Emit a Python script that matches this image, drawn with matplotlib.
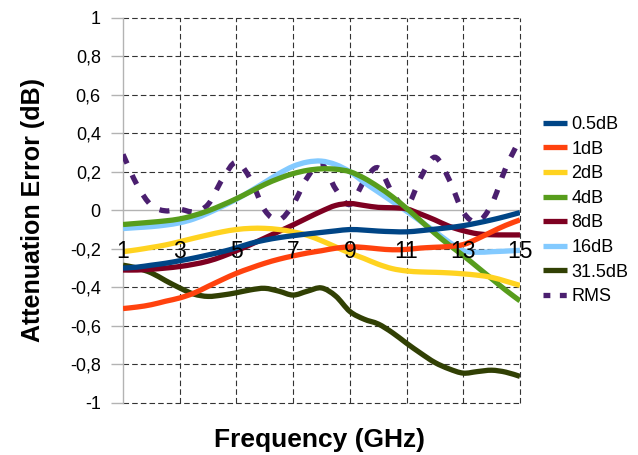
import matplotlib
matplotlib.use("Agg")
import matplotlib.pyplot as plt
from matplotlib.path import Path
from matplotlib.patches import PathPatch
from matplotlib.lines import Line2D
import numpy as np

plt.rcParams['font.family'] = ['Liberation Sans', 'DejaVu Sans']

freq = [1, 1.5, 2, 2.5, 3, 3.5, 4, 4.5, 5, 5.5, 6, 6.5, 7, 7.5, 8, 8.5, 9, 9.5,
        10, 10.5, 11, 11.5, 12, 12.5, 13, 13.5, 14, 14.5, 15]

db05 = [-0.30, -0.295, -0.285, -0.275, -0.262, -0.248, -0.232, -0.215, -0.195, -0.172,
        -0.155, -0.142, -0.132, -0.123, -0.115, -0.107, -0.100, -0.103, -0.108, -0.111,
        -0.112, -0.106, -0.098, -0.090, -0.080, -0.066, -0.050, -0.032, -0.012]
db1 = [-0.51, -0.502, -0.49, -0.472, -0.455, -0.43, -0.395, -0.36, -0.327, -0.30,
       -0.275, -0.254, -0.237, -0.222, -0.21, -0.197, -0.19, -0.193, -0.20, -0.205,
       -0.203, -0.196, -0.192, -0.188, -0.178, -0.148, -0.112, -0.078, -0.05]
db2 = [-0.215, -0.205, -0.193, -0.18, -0.163, -0.145, -0.128, -0.112, -0.10, -0.094,
       -0.094, -0.10, -0.112, -0.13, -0.158, -0.19, -0.222, -0.25, -0.28, -0.303,
       -0.315, -0.32, -0.322, -0.325, -0.33, -0.337, -0.348, -0.368, -0.39]
db4 = [-0.074, -0.068, -0.062, -0.055, -0.045, -0.027, -0.003, 0.027, 0.06, 0.097,
       0.134, 0.165, 0.19, 0.207, 0.215, 0.213, 0.20, 0.167, 0.122, 0.07,
       0.01, -0.055, -0.12, -0.18, -0.235, -0.295, -0.355, -0.415, -0.47]
db8 = [-0.31, -0.31, -0.306, -0.30, -0.292, -0.28, -0.264, -0.24, -0.21, -0.178,
       -0.144, -0.11, -0.076, -0.04, -0.005, 0.025, 0.035, 0.025, 0.015, 0.013,
       0.007, -0.02, -0.05, -0.083, -0.106, -0.122, -0.127, -0.128, -0.128]
db16 = [-0.095, -0.09, -0.085, -0.077, -0.065, -0.045, -0.015, 0.02, 0.057, 0.10,
        0.145, 0.19, 0.228, 0.25, 0.255, 0.237, 0.20, 0.145, 0.095, 0.045,
        -0.005, -0.058, -0.11, -0.165, -0.21, -0.218, -0.215, -0.212, -0.208]
db315 = [-0.285, -0.30, -0.325, -0.365, -0.403, -0.435, -0.447, -0.44, -0.428, -0.413,
         -0.405, -0.42, -0.44, -0.42, -0.403, -0.445, -0.525, -0.565, -0.59, -0.635,
         -0.69, -0.742, -0.79, -0.823, -0.845, -0.837, -0.83, -0.84, -0.862]
rms = [0.29, 0.13, 0.025, -0.003, 0.005, -0.008, 0.03, 0.16, 0.25, 0.16,
       0.0, -0.05, 0.03, 0.17, 0.24, 0.11, 0.03, 0.15, 0.22, 0.09,
       0.02, 0.17, 0.275, 0.16, -0.01, -0.06, 0.03, 0.22, 0.37]

series_names = ['0.5dB', '1dB', '2dB', '4dB', '8dB', '16dB', '31.5dB', 'RMS']
series_values = [db05, db1, db2, db4, db8, db16, db315, rms]
colors = ['#004586', '#ff420e', '#ffd320', '#579d1c', '#7e0021', '#83caff', '#314004', '#4b1f6f']

x_tick_labels = ['1', '3', '5', '7', '9', '11', '13', '15']
x_tick_vals = [1, 3, 5, 7, 9, 11, 13, 15]
y_tick_vals = [-1, -0.8, -0.6, -0.4, -0.2, 0, 0.2, 0.4, 0.6, 0.8, 1]
y_tick_labels = ['-1', '-0,8', '-0,6', '-0,4', '-0,2', '0', '0,2', '0,4', '0,6', '0,8', '1']


def smooth_path(xs, ys):
    # Catmull-Rom smoothing drawn as cubic Bezier segments (like a "smooth line" chart)
    p = np.column_stack([xs, ys]).astype(float)
    n = len(p)
    verts = [p[0]]
    codes = [Path.MOVETO]
    for i in range(n - 1):
        p0 = p[i - 1] if i > 0 else p[i]
        p1 = p[i]
        p2 = p[i + 1]
        p3 = p[i + 2] if i + 2 < n else p[i + 1]
        c1 = p1 + (p2 - p0) / 6.0
        c2 = p2 - (p3 - p1) / 6.0
        verts += [c1, c2, p2]
        codes += [Path.CURVE4] * 3
    return Path(verts, codes)


fig = plt.figure(figsize=(6.38, 4.55), dpi=100)
ax = fig.add_axes([0.1928, 0.1143, 0.8150 - 0.1928, 0.9615 - 0.1143])
ax.set_xlim(1, 15)
ax.set_ylim(-1, 1)

for s in ax.spines.values():
    s.set_visible(False)

grid_color = '#333333'
for yv in y_tick_vals:
    if yv == 0:
        ax.axhline(yv, color='#b3b3b3', lw=1.0, zorder=1, clip_on=False)
    else:
        ax.axhline(yv, color=grid_color, lw=0.8, ls=(0, (5.0, 2.8)), zorder=1, clip_on=False)
for xv in x_tick_vals[1:]:
    ax.axvline(xv, color=grid_color, lw=0.8, ls=(0, (5.0, 2.8)), zorder=1, clip_on=False)
ax.axvline(1, color='#b3b3b3', lw=1.0, zorder=1, clip_on=False)

ax.set_xticks([])
ax.set_yticks(y_tick_vals)
ax.set_yticklabels(y_tick_labels, fontsize=13)
ax.tick_params(axis='y', length=9, width=1, color='#b3b3b3', pad=7, labelcolor='black')

lw = 3.8
handles = []
for k, (name, vals, c) in enumerate(zip(series_names, series_values, colors)):
    path = smooth_path(freq, vals)
    if name == 'RMS':
        patch = PathPatch(path, fill=False, edgecolor=c, lw=lw, ls=(0, (1.9, 2.4)),
                          capstyle='butt', zorder=2, transform=ax.transData)
        h = Line2D([], [], color=c, lw=lw, ls=(0, (1.3, 1.8)), solid_capstyle='butt',
                   dash_capstyle='butt')
    else:
        patch = PathPatch(path, fill=False, edgecolor=c, lw=lw, capstyle='butt',
                          joinstyle='round', zorder=10 - k, transform=ax.transData)
        h = Line2D([], [], color=c, lw=lw, solid_capstyle='butt')
    ax.add_patch(patch)
    handles.append(h)

for xv, lab in zip(x_tick_vals, x_tick_labels):
    ax.text(xv, -0.2, lab, ha='center', va='center_baseline', fontsize=16.5, zorder=20)

ax.set_xlabel('Frequency (GHz)', fontsize=19, fontweight='bold')
ax.set_ylabel('Attenuation Error (dB)', fontsize=18, fontweight='bold')
ax.xaxis.set_label_coords(0.495, -0.064)
ax.yaxis.set_label_coords(-0.196, 0.5)

fig.legend(handles, series_names, loc='center left', bbox_to_anchor=(0.84, 0.537),
           frameon=False, fontsize=13, handlelength=1.3, handletextpad=0.25,
           labelspacing=0.42, borderaxespad=0)

fig.savefig('out.png', dpi=100)
